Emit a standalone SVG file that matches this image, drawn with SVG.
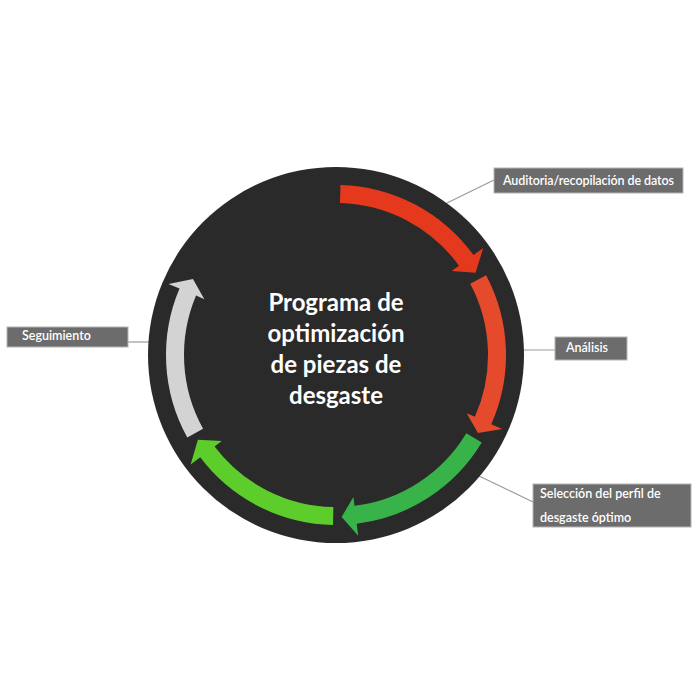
<svg xmlns="http://www.w3.org/2000/svg" width="700" height="700" viewBox="0 0 700 700">
<style>
.box{fill:#6c6c6c;stroke:#b4b4b4;stroke-width:1}
.lbl{font-family:Lato,"Open Sans","Liberation Sans",sans-serif;font-size:12.5px;fill:#ffffff;font-weight:600}
.title{font-family:Lato,"Open Sans","Liberation Sans",sans-serif;font-size:24px;font-weight:bold;fill:#ffffff;text-anchor:middle}
.conn{stroke:#9a9a9a;stroke-width:1.2;fill:none}
</style>
<rect width="700" height="700" fill="#ffffff"/>
<g id="connectors">
<line class="conn" x1="447" y1="203" x2="494" y2="180"/>
<line class="conn" x1="520" y1="350" x2="555" y2="350"/>
<line class="conn" x1="477" y1="475" x2="533" y2="502"/>
<line class="conn" x1="128" y1="342" x2="160" y2="342"/>
</g>
<g id="hub">
<circle cx="336" cy="355" r="188" fill="#2a2a2a"/>
<text class="title" x="336" y="311">Programa de</text>
<text class="title" x="336" y="342">optimización</text>
<text class="title" x="336" y="373">de piezas de</text>
<text class="title" x="336" y="404">desgaste</text>
</g>
<g id="arrow-auditoria">
<path fill="#e5391d" d="M340.45,185.06 A170,170 0 0 1 473.53,255.08 L483.24,248.02 L475.58,272.78 L451.69,270.95 L458.97,265.66 A152,152 0 0 0 339.98,203.05 Z"/>
</g>
<g id="arrow-analisis">
<path fill="#e64a2c" d="M486.10,275.19 A170,170 0 0 1 491.30,424.15 L502.27,429.03 L477.96,433.04 L466.64,413.16 L474.86,416.82 A152,152 0 0 0 470.21,283.64 Z"/>
</g>
<g id="arrow-seleccion">
<path fill="#37b34a" d="M481.72,442.56 A170,170 0 0 1 356.72,523.73 L358.18,535.64 L341.65,516.90 L353.43,496.93 L354.52,505.87 A152,152 0 0 0 466.29,433.29 Z"/>
</g>
<g id="arrow-implementacion">
<path fill="#5ccd2b" d="M333.03,524.97 A170,170 0 0 1 200.23,457.31 L190.65,464.53 L197.87,439.65 L221.79,441.06 L214.61,446.48 A152,152 0 0 0 333.35,506.98 Z"/>
</g>
<g id="arrow-seguimiento">
<path fill="#d3d3d3" d="M187.31,437.42 A170,170 0 0 1 179.51,288.58 L168.47,283.89 L192.96,278.95 L204.37,299.13 L196.08,295.61 A152,152 0 0 0 203.06,428.69 Z"/>
</g>
<g id="label-auditoria">
<rect class="box" x="494" y="168" width="189" height="25"/>
<text class="lbl" x="503" y="185" textLength="171" lengthAdjust="spacing">Auditoria/recopilación de datos</text>
</g>
<g id="label-analisis">
<rect class="box" x="555" y="337" width="72" height="23"/>
<text class="lbl" x="566" y="352">Análisis</text>
</g>
<g id="label-seleccion">
<rect class="box" x="533" y="484" width="158" height="43"/>
<text class="lbl" x="540" y="498">Selección del perfil de</text>
<text class="lbl" x="540" y="522">desgaste óptimo</text>
</g>
<g id="label-seguimiento">
<rect class="box" x="7" y="327" width="121" height="20"/>
<text class="lbl" x="22" y="340">Seguimiento</text>
</g>
</svg>
